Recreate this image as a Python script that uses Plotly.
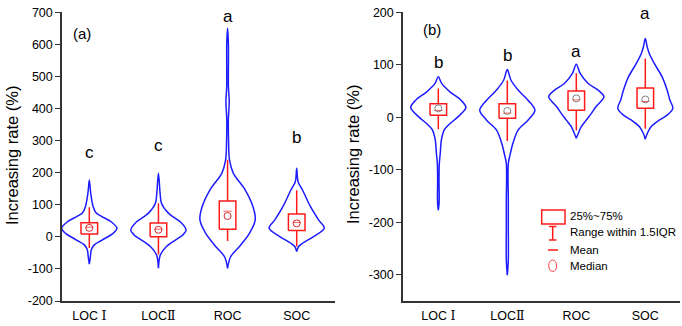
import plotly.graph_objects as go

W, H = 682, 326
FONT = "Liberation Sans, Arial, sans-serif"

categories = ["LOC Ⅰ", "LOCⅡ", "ROC", "SOC"]

# ---- Panel (a): violin outlines (value levels, relative half-width 0..1) ----
a_violin_vals = [
    [177, 136, 94, 74, 63, 47, 27, 11, -10, -25, -41, -61, -85],
    [198, 136, 105, 74, 60, 47, 21, 5, -4, -30, -56, -98],
    [650, 600, 470, 440, 420, 400, 370, 302, 240, 198, 146, 94, 53, 11, -30, -62, -98],
    [214, 172, 146, 94, 53, 27, 1, -20, -30, -46],
]
a_violin_wid = [
    [0, 0.05, 0.14, 0.25, 0.46, 0.79, 1.0, 0.86, 0.46, 0.18, 0.07, 0.04, 0],
    [0, 0.06, 0.11, 0.36, 0.57, 0.79, 1.0, 0.87, 0.72, 0.29, 0.07, 0],
    [0, 0.03, 0.03, 0.05, 0.06, 0.05, 0.03, 0.035, 0.07, 0.21, 0.64, 0.92, 1.0, 0.79, 0.43, 0.11, 0],
    [0, 0.05, 0.21, 0.5, 0.79, 1.0, 0.61, 0.21, 0.07, 0],
]
a_q1 = [9, 0, 24, 20]
a_q3 = [44, 43, 112, 71]
a_lo = [-35, -55, -13, -30]
a_hi = [92, 105, 240, 145]
a_median = [28, 22, 65, 42]
a_mean = [30, 24, 80, 45]
a_letters = ["c", "c", "a", "b"]
a_letter_y = [264, 286, 688, 311]
a_yticks = [-200, -100, 0, 100, 200, 300, 400, 500, 600, 700]

# ---- Panel (b) ----
b_violin_vals = [
    [77, 64.5, 48.5, 32.6, 18.7, 0.8, -15, -24.6, -43.7, -68.5, -88, -120, -152, -165, -177],
    [91, 71, 52, 32.6, 13.5, -5.5, -24.6, -50, -69, -88, -158, -209, -273, -301],
    [101, 83.6, 64.5, 51.7, 39, 20, 7, -5.5, -18, -31, -40],
    [150, 134, 122, 103, 77, 52, 33, 17, 4, -5.5, -18, -31, -42],
]
b_violin_wid = [
    [0, 0.12, 0.42, 0.82, 1.0, 0.71, 0.36, 0.21, 0.11, 0.07, 0.036, 0.025, 0.032, 0.025, 0],
    [0, 0.13, 0.39, 0.75, 1.0, 0.75, 0.39, 0.2, 0.11, 0.036, 0.036, 0.036, 0.036, 0],
    [0, 0.14, 0.43, 0.79, 1.0, 0.71, 0.54, 0.36, 0.18, 0.07, 0],
    [0, 0.07, 0.14, 0.32, 0.61, 0.79, 0.89, 1.0, 0.79, 0.5, 0.21, 0.07, 0],
]
b_q1 = [4, -2, 13.5, 17]
b_q3 = [26, 26, 50, 56]
b_lo = [-23, -45, -25, -22]
b_hi = [55, 70, 84, 112]
b_median = [17, 12, 36, 34]
b_mean = [13, 8, 33, 30]
b_letters = ["b", "b", "a", "a"]
b_letter_y = [104, 118, 125, 198]
b_yticks = [-300, -200, -100, 0, 100, 200]

legend_labels = ["25%~75%", "Range within 1.5IQR", "Mean", "Median"]

VIOLIN_HALF = 0.4
BOX_HALF = 0.12
BLUE = "#1c1cff"
RED = "#ff1a1a"


def cat_label(s):
    # Roman numerals rendered in a serif face, as in the original
    out = ""
    for ch in s:
        if ch in "ⅠⅡ":
            out += "<span style='font-family:DejaVu Serif'>" + ch + "</span>"
        else:
            out += ch
    return out


fig = go.Figure()


def add_panel(xa, ya, vals, wids, q1, q3, lo, hi, med, mean):
    for i in range(len(categories)):
        c = i + 1
        v = vals[i]
        w = wids[i]
        xs = [c + k * VIOLIN_HALF for k in w] + [c - k * VIOLIN_HALF for k in reversed(w)]
        ys = list(v) + list(reversed(v))
        fig.add_trace(go.Scatter(x=xs, y=ys, mode="lines", xaxis=xa, yaxis=ya,
                                 line=dict(color=BLUE, width=1.5, shape="spline", smoothing=0.9),
                                 hoverinfo="skip", showlegend=False))
        # whisker
        fig.add_trace(go.Scatter(x=[c, c], y=[lo[i], hi[i]], mode="lines", xaxis=xa, yaxis=ya,
                                 line=dict(color=RED, width=1.5), hoverinfo="skip", showlegend=False))
        # box
        fig.add_trace(go.Scatter(x=[c - BOX_HALF, c + BOX_HALF, c + BOX_HALF, c - BOX_HALF, c - BOX_HALF],
                                 y=[q1[i], q1[i], q3[i], q3[i], q1[i]], mode="lines",
                                 fill="toself", fillcolor="white", xaxis=xa, yaxis=ya,
                                 line=dict(color=RED, width=1.5), hoverinfo="skip", showlegend=False))
    fig.add_trace(go.Scatter(x=[1, 2, 3, 4], y=mean, mode="markers", xaxis=xa, yaxis=ya,
                             marker=dict(symbol="line-ew", size=6, line=dict(color="#ff6060", width=1)),
                             hoverinfo="skip", showlegend=False))
    fig.add_trace(go.Scatter(x=[1, 2, 3, 4], y=med, mode="markers", xaxis=xa, yaxis=ya,
                             marker=dict(symbol="circle-open", size=7, line=dict(color="#ff6060", width=1)),
                             hoverinfo="skip", showlegend=False))


add_panel("x", "y", a_violin_vals, a_violin_wid, a_q1, a_q3, a_lo, a_hi, a_median, a_mean)
add_panel("x2", "y2", b_violin_vals, b_violin_wid, b_q1, b_q3, b_lo, b_hi, b_median, b_mean)

ydom = [1 - 301 / H, 1 - 12.3 / H]
axis_common = dict(showline=True, linecolor="#333333", linewidth=1.5, showgrid=False,
                   zeroline=False, automargin=False, tickfont=dict(family=FONT, size=12.5, color="black"))
cat_text = [cat_label(c) for c in categories]

fig.update_layout(
    width=W, height=H,
    margin=dict(l=0, r=0, t=0, b=0),
    paper_bgcolor="white", plot_bgcolor="white",
    template="none",
    xaxis=dict(domain=[62 / W, 335 / W], range=[0.605, 4.554], tickvals=[1, 2, 3, 4],
               ticktext=cat_text, ticks="outside", ticklen=2, tickcolor="rgba(0,0,0,0)",
               anchor="y", **axis_common),
    yaxis=dict(domain=ydom, range=[-200, 700], tickvals=a_yticks,
               ticktext=[str(t) for t in a_yticks],
               ticks="outside", ticklen=5, tickcolor="#333333", anchor="x", **axis_common),
    xaxis2=dict(domain=[403 / W, 680 / W], range=[0.488, 4.503], tickvals=[1, 2, 3, 4],
                ticktext=cat_text, ticks="outside", ticklen=2, tickcolor="rgba(0,0,0,0)",
                anchor="y2", **axis_common),
    yaxis2=dict(domain=ydom, range=[-350, 200], tickvals=b_yticks,
                ticktext=[str(t) for t in b_yticks],
                ticks="outside", ticklen=5, tickcolor="#333333", anchor="x2", **axis_common),
)

ann = []
for i in range(4):
    ann.append(dict(x=i + 1, y=a_letter_y[i], xref="x", yref="y", text=a_letters[i], showarrow=False,
                    xanchor="center", yanchor="middle",
                    font=dict(family=FONT, size=17, color="black")))
    ann.append(dict(x=i + 1, y=b_letter_y[i], xref="x2", yref="y2", text=b_letters[i], showarrow=False,
                    xanchor="center", yanchor="middle",
                    font=dict(family=FONT, size=17, color="black")))
ann.append(dict(x=82 / W, y=1 - 34 / H, xref="paper", yref="paper", text="(a)", showarrow=False,
                xanchor="center", yanchor="middle", font=dict(family=FONT, size=15, color="black")))
ann.append(dict(x=432 / W, y=1 - 29 / H, xref="paper", yref="paper", text="(b)", showarrow=False,
                xanchor="center", yanchor="middle", font=dict(family=FONT, size=15, color="black")))
for xc, yc in [(12, 156), (353, 155)]:
    ann.append(dict(x=xc / W, y=1 - yc / H, xref="paper", yref="paper", text="Increasing rate (%)",
                    textangle=-90, showarrow=False, xanchor="center", yanchor="middle",
                    font=dict(family=FONT, size=16.5, color="black")))

# legend (drawn manually)
leg_y = [215.7, 232.3, 250, 265.7]
for lab, yy in zip(legend_labels, leg_y):
    ann.append(dict(x=568 / W, y=1 - yy / H, xref="paper", yref="paper", text=lab, xanchor="left",
                    yanchor="middle", showarrow=False, font=dict(family=FONT, size=11.5, color="black")))
fig.update_layout(annotations=ann)


def px(x):
    return x / W


def py(y):
    return 1 - y / H


shapes = [
    dict(type="rect", xref="paper", yref="paper", x0=px(541.7), x1=px(565), y0=py(224), y1=py(210),
         line=dict(color=RED, width=1.5)),
    dict(type="line", xref="paper", yref="paper", x0=px(552.7), x1=px(552.7), y0=py(226.5), y1=py(240),
         line=dict(color=RED, width=1.5)),
    dict(type="line", xref="paper", yref="paper", x0=px(549), x1=px(556.5), y0=py(226.5), y1=py(226.5),
         line=dict(color=RED, width=1.5)),
    dict(type="line", xref="paper", yref="paper", x0=px(549), x1=px(556.5), y0=py(240), y1=py(240),
         line=dict(color=RED, width=1.5)),
    dict(type="line", xref="paper", yref="paper", x0=px(548), x1=px(558), y0=py(250), y1=py(250),
         line=dict(color=RED, width=1.5)),
    dict(type="circle", xref="paper", yref="paper", x0=px(548.7), x1=px(556.7), y0=py(271.5), y1=py(260),
         line=dict(color="#ff4040", width=1)),
]
fig.update_layout(shapes=shapes)

fig.write_html("out.html")
